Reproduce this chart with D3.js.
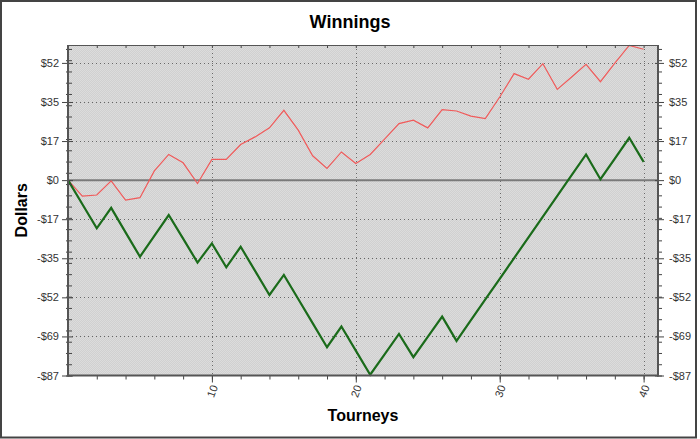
<!DOCTYPE html>
<html>
<head>
<meta charset="utf-8">
<script src="https://cdn.jsdelivr.net/npm/d3@7"></script>
<style>
  body { margin: 0; background: #fff; }
  svg { display: block; font-family: "Liberation Sans", Arial, sans-serif; }
  .axis text { font-family: "Liberation Sans", Arial, sans-serif; font-size: 11px; fill: #333; }
  .axis line { stroke: #444; }
  .axis path { display: none; }
</style>
</head>
<body>
<div id="chart"></div>
<script>
// Tourney numbers along the x axis.
var tourneys = d3.range(0, 41);

// Running winnings (red, thin).
var winnings = [0, -7.1, -6.6, -0.3, -8.9, -7.8, 4.1, 11.4, 7.7, -1.5,
    9.2, 9.2, 15.8, 19.2, 23.2, 31.0, 22.2, 10.8, 5.2, 12.5,
    7.4, 11.4, 18.2, 25.1, 26.6, 23.2, 31.3, 30.7, 28.4, 27.3,
    36.9, 47.3, 44.8, 51.7, 40.3, 45.8, 51.4, 43.7, 51.9, 59.8, 58.1];

// Second series (green, thick).
var balance = [0, -10.7, -21.4, -12.3, -23.2, -34.0, -24.8, -15.5, -26.0, -36.6,
    -28.1, -38.7, -29.6, -40.3, -51.0, -42.1, -52.8, -63.5, -74.2, -65.0,
    -75.7, -86.4, -77.4, -68.3, -78.6, -69.6, -60.6, -71.4, -62.2, -53.0,
    -43.8, -34.6, -25.4, -16.2, -7.0, 2.2, 11.4, 0.4, 9.6, 18.8, 8.1];

// Axis ticks.
var yTicks = [-86.75, -69.4, -52.05, -34.7, -17.35, 0, 17.35, 34.7, 52.05];
var yTickLabels = ['-$87', '-$69', '-$52', '-$35', '-$17', '$0', '$17', '$35', '$52'];
var xTicks = [10, 20, 30, 40];
var xMinorTicks = d3.range(2, 41, 2);

var width = 700, height = 439;
var plot = {left: 68, right: 658, top: 45, bottom: 375.5};

var svg = d3.select('#chart').append('svg')
    .attr('width', width)
    .attr('height', height);

// Dotted grey background pattern.
var defs = svg.append('defs');
var pat = defs.append('pattern')
    .attr('id', 'dots')
    .attr('width', 2).attr('height', 2)
    .attr('patternUnits', 'userSpaceOnUse');
pat.append('rect').attr('width', 2).attr('height', 2).attr('fill', '#d0d0d0');
pat.append('rect').attr('width', 1).attr('height', 1).attr('fill', '#dcdcdc');
pat.append('rect').attr('x', 1).attr('y', 1).attr('width', 1).attr('height', 1).attr('fill', '#dcdcdc');

// Outer frame.
svg.append('rect')
    .attr('x', 1).attr('y', 1)
    .attr('width', 695).attr('height', 436.5)
    .attr('fill', '#fff')
    .attr('stroke', '#444')
    .attr('stroke-width', 2);

var x = d3.scaleLinear().domain([0, 41]).range([plot.left, plot.right]);
var y = d3.scaleLinear().domain([-86.75, 60]).range([plot.bottom, plot.top]);

svg.append('rect')
    .attr('x', plot.left).attr('y', plot.top)
    .attr('width', plot.right - plot.left)
    .attr('height', plot.bottom - plot.top)
    .attr('fill', 'url(#dots)');

// Grid lines.
var grid = svg.append('g').attr('class', 'grid');
grid.selectAll('.hgrid')
    .data(yTicks.filter(function(d) { return d !== 0 && d !== yTicks[0]; }))
    .enter().append('line')
    .attr('x1', plot.left).attr('x2', plot.right)
    .attr('y1', function(d) { return Math.round(y(d)) + 0.5; })
    .attr('y2', function(d) { return Math.round(y(d)) + 0.5; })
    .attr('stroke', '#666')
    .attr('stroke-dasharray', '1,3');
grid.selectAll('.vgrid')
    .data(xTicks)
    .enter().append('line')
    .attr('x1', function(d) { return Math.round(x(d)) + 0.5; })
    .attr('x2', function(d) { return Math.round(x(d)) + 0.5; })
    .attr('y1', plot.top).attr('y2', plot.bottom)
    .attr('stroke', '#666')
    .attr('stroke-dasharray', '1,3');

// Zero line.
svg.append('line')
    .attr('x1', plot.left).attr('x2', plot.right)
    .attr('y1', y(0)).attr('y2', y(0))
    .attr('stroke', '#7a7a7a')
    .attr('stroke-width', 2);

// Series.
var line = d3.line()
    .x(function(d, i) { return x(tourneys[i]); })
    .y(function(d) { return y(d); });

svg.append('path')
    .attr('d', line(winnings))
    .attr('fill', 'none')
    .attr('stroke', '#f05a5a')
    .attr('stroke-width', 1.2);

svg.append('path')
    .attr('d', line(balance))
    .attr('fill', 'none')
    .attr('stroke', '#1a6b1a')
    .attr('stroke-width', 2.2)
    .attr('stroke-linejoin', 'miter');

// Minor y ticks every $5 up from the bottom.
var yMinor = d3.range(-86.75, 60, 5);

// Left axis.
var leftMinor = svg.append('g').attr('class', 'axis')
    .attr('transform', 'translate(' + plot.left + ',0)')
    .call(d3.axisLeft(y).tickValues(yMinor).tickFormat('').tickSize(2));
leftMinor.selectAll('.tick line').attr('x1', 4);
var left = svg.append('g').attr('class', 'axis')
    .attr('transform', 'translate(' + plot.left + ',0)')
    .call(d3.axisLeft(y).tickValues(yTicks)
        .tickFormat(function(d, i) { return yTickLabels[i]; })
        .tickSize(6).tickPadding(3));
left.selectAll('.tick line').attr('x1', 5);

// Right axis.
var rightMinor = svg.append('g').attr('class', 'axis')
    .attr('transform', 'translate(' + plot.right + ',0)')
    .call(d3.axisRight(y).tickValues(yMinor).tickFormat('').tickSize(4));
rightMinor.selectAll('.tick line').attr('x1', -1);
var right = svg.append('g').attr('class', 'axis')
    .attr('transform', 'translate(' + plot.right + ',0)')
    .call(d3.axisRight(y).tickValues(yTicks)
        .tickFormat(function(d, i) { return yTickLabels[i]; })
        .tickSize(6).tickPadding(5));
right.selectAll('.tick line').attr('x1', -3);

// Bottom axis.
svg.append('g').attr('class', 'axis')
    .attr('transform', 'translate(0,' + plot.bottom + ')')
    .call(d3.axisBottom(x).tickValues(xMinorTicks).tickFormat('').tickSize(4));
var bottom = svg.append('g').attr('class', 'axis')
    .attr('transform', 'translate(0,' + plot.bottom + ')')
    .call(d3.axisBottom(x).tickValues(xTicks).tickSize(7));
bottom.selectAll('.tick text')
    .attr('transform', 'translate(2,10) rotate(-70)')
    .attr('text-anchor', 'end')
    .attr('x', 0).attr('y', 0)
    .attr('dy', '0.35em');

// Top axis ticks point inward.
svg.append('g').attr('class', 'axis')
    .attr('transform', 'translate(0,' + plot.top + ')')
    .call(d3.axisBottom(x).tickValues(xMinorTicks).tickFormat('').tickSize(3));

// Plot frame.
var frame = svg.append('g').attr('stroke', '#555').attr('fill', 'none');
frame.append('line').attr('x1', plot.left).attr('x2', plot.right)
    .attr('y1', plot.top + 0.5).attr('y2', plot.top + 0.5).attr('stroke-width', 1);
frame.append('line').attr('x1', plot.left).attr('x2', plot.right)
    .attr('y1', plot.bottom).attr('y2', plot.bottom).attr('stroke-width', 2);
frame.append('line').attr('x1', plot.left).attr('x2', plot.left)
    .attr('y1', plot.top).attr('y2', plot.bottom + 1).attr('stroke-width', 2);
frame.append('line').attr('x1', plot.right).attr('x2', plot.right)
    .attr('y1', plot.top).attr('y2', plot.bottom + 1).attr('stroke-width', 2);

// Titles.
svg.append('text')
    .attr('x', 350).attr('y', 28)
    .attr('text-anchor', 'middle')
    .style('font-size', '18px').style('font-weight', 'bold')
    .text('Winnings');

svg.append('text')
    .attr('x', (plot.left + plot.right) / 2).attr('y', 421)
    .attr('text-anchor', 'middle')
    .style('font-size', '16px').style('font-weight', 'bold')
    .text('Tourneys');

svg.append('text')
    .attr('transform', 'translate(27,' + (plot.top + plot.bottom) / 2 + ') rotate(-90)')
    .attr('text-anchor', 'middle')
    .style('font-size', '16px').style('font-weight', 'bold')
    .text('Dollars');
</script>
</body>
</html>
